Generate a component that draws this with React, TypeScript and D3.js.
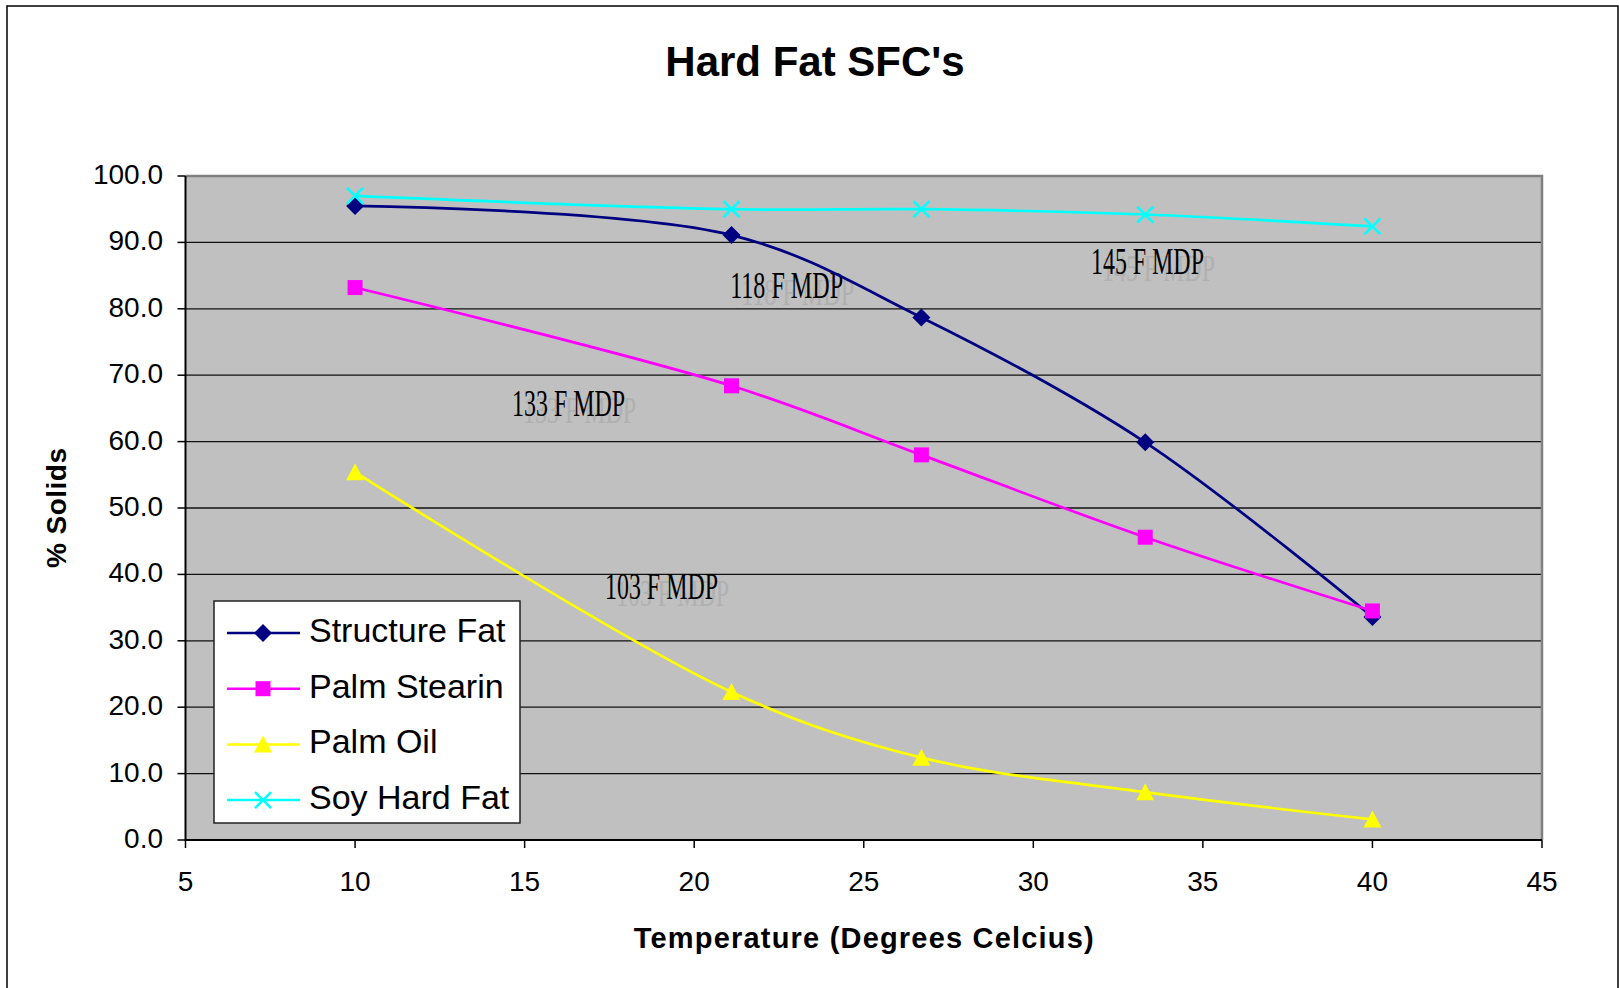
import React from "react";
import * as d3 from "d3";

// temperatures (deg C) and % solids per fat
const temps = [10, 21.1, 26.7, 33.3, 40];
const structureFat = [95.5, 91.1, 78.7, 59.9, 33.6];
const palmStearin = [83.2, 68.4, 58.0, 45.6, 34.5];
const palmOil = [55.4, 22.3, 12.4, 7.2, 3.1];
const soyHardFat = [97.0, 95.0, 95.0, 94.2, 92.4];

const seriesNames = ["Structure Fat", "Palm Stearin", "Palm Oil", "Soy Hard Fat"];
const seriesValues = [structureFat, palmStearin, palmOil, soyHardFat];
const seriesColors = ["#000080", "#FF00FF", "#FFFF00", "#00FFFF"];
const seriesMarkers = ["diamond", "square", "triangle", "cross"];

const xTicks = [5, 10, 15, 20, 25, 30, 35, 40, 45];
const yTicks = [0, 10, 20, 30, 40, 50, 60, 70, 80, 90, 100];

// melting point notes, placed in data units
const noteLabels = ["118 F MDP", "145 F MDP", "133 F MDP", "103 F MDP"];
const noteX = [21.06, 31.7, 14.63, 17.37];
const noteY = [81.6, 85.2, 63.9, 36.3];

const W = 1619;
const H = 988;
const sans = "'Liberation Sans', Arial, sans-serif";

const Marker = ({ kind, color, cx, cy }) => {
  if (kind === "diamond")
    return <path d="M0,-9L9,0L0,9L-9,0Z" transform={`translate(${cx},${cy})`} fill={color} />;
  if (kind === "square")
    return <rect x={cx - 7.5} y={cy - 7.5} width={15} height={15} fill={color} />;
  if (kind === "triangle")
    return <path d="M0,-9L9,8L-9,8Z" transform={`translate(${cx},${cy})`} fill={color} />;
  return (
    <path
      d="M-8,-8L8,8M-8,8L8,-8"
      transform={`translate(${cx},${cy})`}
      stroke={color}
      strokeWidth={2.5}
      fill="none"
    />
  );
};

export default function App() {
  const x = d3.scaleLinear().domain([5, 45]).range([185.5, 1542]);
  const y = d3.scaleLinear().domain([0, 100]).range([840, 176]);
  const [x0, x1] = x.range();
  const [y0, y1] = y.range();

  const line = d3
    .line<number>()
    .x((_, i) => x(temps[i]))
    .y((d) => y(d))
    .curve(d3.curveCatmullRom.alpha(0.5));

  return (
    <div style={{ position: "absolute", left: 0, top: 0 }}>
      <svg width={W} height={H} style={{ display: "block", background: "#fff" }}>
        {/* chart frame */}
        <rect x={7} y={6} width={1611} height={1000} fill="#fff" stroke="#000" strokeWidth={1.5} />

        <text x={815} y={76} textAnchor="middle" fontFamily={sans} fontWeight="bold" fontSize={42}>
          Hard Fat SFC's
        </text>

        {/* plot area */}
        <rect x={x0} y={y1} width={x1 - x0} height={y0 - y1} fill="#C0C0C0" />
        {yTicks.slice(1, -1).map((t) => (
          <line key={t} x1={x0} x2={x1} y1={y(t)} y2={y(t)} stroke="#111" strokeWidth={1.3} />
        ))}
        <path d={`M${x0},${y1}H${x1}V${y0}`} fill="none" stroke="#808080" strokeWidth={2.5} />
        <path d={`M${x0},${y1}V${y0}H${x1}`} fill="none" stroke="#000" strokeWidth={2} />

        {/* y axis */}
        {yTicks.map((t) => (
          <g key={t}>
            <line x1={x0 - 8} x2={x0} y1={y(t)} y2={y(t)} stroke="#000" strokeWidth={1.5} />
            <text x={163} y={y(t) + 8} textAnchor="end" fontFamily={sans} fontSize={28}>
              {t.toFixed(1)}
            </text>
          </g>
        ))}
        {/* x axis */}
        {xTicks.map((t) => (
          <g key={t}>
            <line x1={x(t)} x2={x(t)} y1={y0} y2={y0 + 8} stroke="#000" strokeWidth={1.5} />
            <text x={x(t)} y={891} textAnchor="middle" fontFamily={sans} fontSize={28}>
              {t}
            </text>
          </g>
        ))}

        <text
          x={(x0 + x1) / 2}
          y={948}
          textAnchor="middle"
          fontFamily={sans}
          fontWeight="bold"
          fontSize={29}
          textLength={460}
          lengthAdjust="spacing"
        >
          Temperature (Degrees Celcius)
        </text>
        <text
          transform={`translate(66,${(y0 + y1) / 2}) rotate(-90)`}
          textAnchor="middle"
          fontFamily={sans}
          fontWeight="bold"
          fontSize={28}
          textLength={120}
          lengthAdjust="spacing"
        >
          % Solids
        </text>

        {/* notes (with the faint shadow copy seen in the original) */}
        {noteLabels.map((n, i) => (
          <g key={n} fontFamily="'Liberation Serif', 'Times New Roman', serif" fontSize={37}>
            <text x={x(noteX[i]) + 11} y={y(noteY[i]) + 7} fill="#b0b0b0" textLength={113} lengthAdjust="spacingAndGlyphs">
              {n}
            </text>
            <text x={x(noteX[i])} y={y(noteY[i])} fill="#000" textLength={113} lengthAdjust="spacingAndGlyphs">
              {n}
            </text>
          </g>
        ))}

        {/* series */}
        {seriesValues.map((vals, s) => (
          <g key={seriesNames[s]}>
            <path d={line(vals) || ""} fill="none" stroke={seriesColors[s]} strokeWidth={2.7} />
            {vals.map((v, i) => (
              <Marker key={i} kind={seriesMarkers[s]} color={seriesColors[s]} cx={x(temps[i])} cy={y(v)} />
            ))}
          </g>
        ))}

        {/* legend */}
        <g>
          <rect x={214} y={601} width={306} height={222} fill="#fff" stroke="#222" strokeWidth={1.5} />
          {seriesNames.map((n, s) => {
            const cy = 633 + s * 55.7;
            return (
              <g key={n}>
                <line x1={227} x2={300} y1={cy} y2={cy} stroke={seriesColors[s]} strokeWidth={2.5} />
                <Marker kind={seriesMarkers[s]} color={seriesColors[s]} cx={263} cy={cy} />
                <text x={309} y={cy + 9} fontFamily={sans} fontSize={34}>
                  {n}
                </text>
              </g>
            );
          })}
        </g>
      </svg>
    </div>
  );
}
